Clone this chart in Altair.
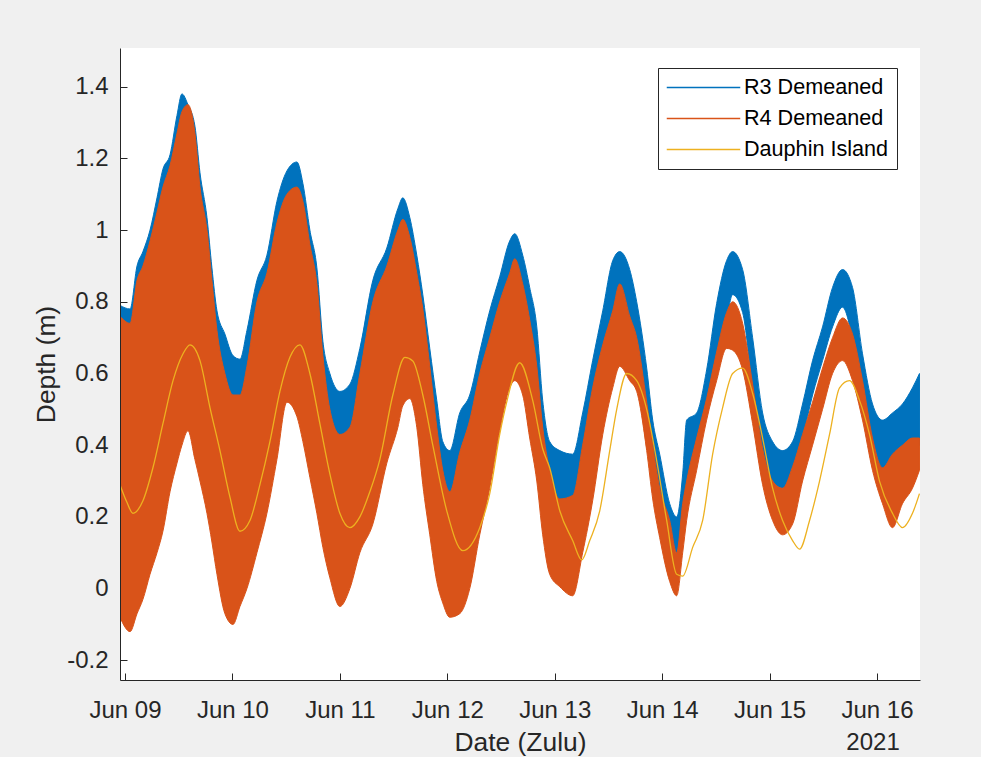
import altair as alt
import pandas as pd

# ---- data (day of June 2021, UTC, fractional) ----
BAND_DAY = [
    8.953, 9.047, 9.112, 9.167, 9.233, 9.298, 9.353, 9.419, 9.484, 9.530,
    9.586, 9.651, 9.698, 9.763, 9.809, 9.856, 9.930, 10.005, 10.070, 10.135,
    10.228, 10.321, 10.414, 10.507, 10.600, 10.656, 10.721, 10.786, 10.842, 10.907,
    11.000, 11.093, 11.186, 11.307, 11.437, 11.540, 11.586, 11.651, 11.716, 11.772,
    11.837, 11.902, 11.958, 12.023, 12.116, 12.209, 12.302, 12.395, 12.488, 12.581,
    12.628, 12.702, 12.767, 12.833, 12.888, 12.953, 13.047, 13.167, 13.260, 13.353,
    13.447, 13.540, 13.605, 13.698, 13.763, 13.856, 13.912, 13.977, 14.070, 14.135,
    14.191, 14.228, 14.321, 14.414, 14.507, 14.600, 14.656, 14.749, 14.842, 14.935,
    15.028, 15.121, 15.214, 15.307, 15.400, 15.493, 15.586, 15.679, 15.772, 15.865,
    15.958, 16.051, 16.144, 16.237, 16.330, 16.395,
]
R3_TOP = [
    0.79, 0.78, 0.90, 0.94, 1.00, 1.09, 1.17, 1.21, 1.32, 1.38,
    1.35, 1.29, 1.16, 1.035, 0.895, 0.775, 0.71, 0.65, 0.64, 0.72,
    0.86, 0.93, 1.08, 1.165, 1.19, 1.13, 1.00, 0.895, 0.69, 0.60,
    0.55, 0.57, 0.67, 0.86, 0.95, 1.06, 1.09, 1.035, 0.93, 0.82,
    0.67, 0.525, 0.41, 0.385, 0.49, 0.54, 0.66, 0.775, 0.87, 0.97,
    0.99, 0.93, 0.84, 0.73, 0.525, 0.41, 0.385, 0.375, 0.49, 0.636,
    0.775, 0.915, 0.94, 0.89, 0.80, 0.615, 0.47, 0.375, 0.237, 0.20,
    0.32, 0.47, 0.49, 0.61, 0.795, 0.915, 0.94, 0.89, 0.70, 0.49,
    0.41, 0.385, 0.41, 0.515, 0.636, 0.73, 0.84, 0.89, 0.84, 0.655,
    0.515, 0.47, 0.49, 0.515, 0.56, 0.60,
]
R3_BOTTOM = [
    0.05, 0.00, 0.05, 0.10, 0.15, 0.25, 0.30, 0.40, 0.50, 0.55,
    0.60, 0.55, 0.50, 0.40, 0.30, 0.20, 0.10, 0.05, 0.05, 0.10,
    0.20, 0.30, 0.45, 0.60, 0.65, 0.60, 0.50, 0.40, 0.25, 0.15,
    0.08, 0.10, 0.20, 0.30, 0.45, 0.60, 0.65, 0.65, 0.60, 0.45,
    0.30, 0.15, 0.10, 0.05, 0.05, 0.10, 0.25, 0.40, 0.55, 0.65,
    0.70, 0.65, 0.55, 0.40, 0.25, 0.10, 0.05, 0.05, 0.20, 0.35,
    0.50, 0.62, 0.70, 0.65, 0.62, 0.45, 0.38, 0.27, 0.18, 0.10,
    0.20, 0.265, 0.357, 0.49, 0.63, 0.75, 0.82, 0.77, 0.56, 0.375,
    0.30, 0.28, 0.32, 0.42, 0.54, 0.636, 0.73, 0.785, 0.70, 0.56,
    0.41, 0.32, 0.33, 0.36, 0.38, 0.40,
]
R4_TOP = [
    0.76, 0.74, 0.86, 0.90, 0.97, 1.05, 1.12, 1.18, 1.27, 1.33,
    1.35, 1.27, 1.12, 1.00, 0.86, 0.72, 0.60, 0.54, 0.54, 0.62,
    0.80, 0.88, 1.02, 1.10, 1.12, 1.08, 0.96, 0.85, 0.65, 0.50,
    0.43, 0.45, 0.60, 0.80, 0.90, 1.00, 1.03, 0.98, 0.88, 0.78,
    0.62, 0.45, 0.33, 0.27, 0.38, 0.47, 0.60, 0.70, 0.80, 0.88,
    0.92, 0.85, 0.75, 0.62, 0.45, 0.33, 0.25, 0.26, 0.40, 0.56,
    0.68, 0.775, 0.85, 0.76, 0.70, 0.52, 0.40, 0.28, 0.19, 0.10,
    0.237, 0.30, 0.42, 0.53, 0.66, 0.77, 0.80, 0.74, 0.57, 0.39,
    0.30, 0.28, 0.34, 0.43, 0.52, 0.615, 0.70, 0.755, 0.71, 0.58,
    0.42, 0.337, 0.375, 0.40, 0.42, 0.42,
]
R4_BOTTOM = [
    -0.08, -0.12, -0.07, -0.03, 0.04, 0.10, 0.16, 0.27, 0.35, 0.40,
    0.44, 0.36, 0.30, 0.21, 0.13, 0.04, -0.07, -0.10, -0.05, 0.00,
    0.10, 0.21, 0.36, 0.52, 0.48, 0.41, 0.31, 0.21, 0.115, 0.03,
    -0.05, 0.00, 0.10, 0.18, 0.35, 0.45, 0.51, 0.53, 0.45, 0.29,
    0.15, 0.02, -0.04, -0.08, -0.07, 0.00, 0.15, 0.28, 0.44, 0.56,
    0.58, 0.54, 0.42, 0.30, 0.15, 0.04, 0.005, -0.02, 0.10, 0.245,
    0.43, 0.56, 0.62, 0.58, 0.55, 0.385, 0.25, 0.142, 0.02, -0.02,
    0.10, 0.19, 0.33, 0.47, 0.58, 0.67, 0.665, 0.61, 0.46, 0.29,
    0.19, 0.15, 0.18, 0.30, 0.40, 0.50, 0.60, 0.636, 0.58, 0.47,
    0.33, 0.237, 0.17, 0.237, 0.28, 0.33,
]
DI_DAY = [
    8.953, 9.019, 9.074, 9.167, 9.260, 9.353, 9.447, 9.540, 9.605, 9.698,
    9.791, 9.884, 9.977, 10.070, 10.163, 10.256, 10.349, 10.442, 10.535, 10.628,
    10.721, 10.814, 10.907, 11.000, 11.093, 11.186, 11.279, 11.372, 11.493, 11.605,
    11.679, 11.772, 11.865, 11.995, 12.144, 12.302, 12.395, 12.488, 12.553, 12.674,
    12.795, 12.888, 12.953, 13.047, 13.167, 13.251, 13.326, 13.419, 13.512, 13.577,
    13.670, 13.763, 13.856, 13.949, 14.042, 14.135, 14.191, 14.284, 14.377, 14.470,
    14.563, 14.656, 14.749, 14.842, 14.935, 15.028, 15.121, 15.214, 15.279, 15.372,
    15.465, 15.558, 15.651, 15.744, 15.837, 15.930, 16.023, 16.144, 16.237, 16.330,
    16.395,
]
DI_DEPTH = [
    0.29, 0.24, 0.21, 0.245, 0.337, 0.46, 0.58, 0.655, 0.68, 0.636,
    0.505, 0.385, 0.255, 0.16, 0.19, 0.29, 0.41, 0.55, 0.645, 0.68,
    0.60, 0.46, 0.32, 0.21, 0.17, 0.20, 0.27, 0.36, 0.54, 0.645,
    0.635, 0.54, 0.40, 0.217, 0.106, 0.17, 0.265, 0.43, 0.52, 0.63,
    0.525, 0.39, 0.337, 0.217, 0.134, 0.08, 0.134, 0.217, 0.385, 0.50,
    0.60, 0.58, 0.50, 0.357, 0.19, 0.04, 0.035, 0.115, 0.19, 0.375,
    0.505, 0.60, 0.615, 0.545, 0.42, 0.28, 0.19, 0.134, 0.11, 0.19,
    0.30, 0.43, 0.56, 0.58, 0.525, 0.43, 0.30, 0.21, 0.17, 0.21,
    0.265,
]
SERIES = ["R3 Demeaned", "R4 Demeaned", "Dauphin Island"]
COLORS = ["#0072BD", "#D95319", "#EDB120"]
X_TICK_DAYS = [9, 10, 11, 12, 13, 14, 15, 16]
Y_TICKS = [-0.2, 0, 0.2, 0.4, 0.6, 0.8, 1, 1.2, 1.4]
X_DOMAIN_DAYS = [8.9535, 16.40]
Y_DOMAIN = [-0.255, 1.508]
YEAR_LABEL = "2021"

FONT = "Liberation Sans"
AX = "#262626"


def to_ms(day):
    t = pd.Timestamp("2021-06-01", tz="UTC") + pd.to_timedelta(day - 1, unit="D")
    return int(t.value // 10**6)


r3 = pd.DataFrame({"t": [to_ms(d) for d in BAND_DAY], "lo": R3_BOTTOM,
                   "hi": R3_TOP, "series": SERIES[0]})
r4 = pd.DataFrame({"t": [to_ms(d) for d in BAND_DAY], "lo": R4_BOTTOM,
                   "hi": R4_TOP, "series": SERIES[1]})
di = pd.DataFrame({"t": [to_ms(d) for d in DI_DAY], "v": DI_DEPTH,
                   "series": SERIES[2]})
yr = pd.DataFrame({"t": [to_ms(16)], "txt": [YEAR_LABEL]})

xscale = alt.Scale(type="utc", domain=[to_ms(d) for d in X_DOMAIN_DAYS], nice=False)
yscale = alt.Scale(domain=Y_DOMAIN, nice=False, zero=False)
cscale = alt.Scale(domain=SERIES, range=COLORS)
xvals = [to_ms(d) for d in X_TICK_DAYS]

legend = alt.Legend(
    orient="none", legendX=538, legendY=20,
    symbolType="M-3.5,0H3.5", symbolSize=441, symbolStrokeWidth=1.5,
    symbolOffset=26, symbolFillColor="transparent",
    rowPadding=8, padding=8, labelOffset=29,
    labelFontSize=21.6, labelFont=FONT, labelColor="#000000", labelLimit=400,
    strokeColor=AX, fillColor="white", symbolOpacity=1,
)
stroke_enc = alt.Stroke("series:N", scale=cscale, title=None, legend=legend)

x_main = alt.X(
    "t:T", scale=xscale,
    axis=alt.Axis(
        orient="bottom", values=xvals,
        labelExpr="utcFormat(datum.value, '%b %d')",
        ticks=False, tickSize=0, labelPadding=37, labelBaseline="alphabetic",
        labelFontSize=24, labelFont=FONT, labelColor=AX, labelFlush=False,
        labelOverlap=False, domainColor=AX, domainWidth=1, grid=False,
        title="Date (Zulu)", titleFontSize=26.4, titleFont=FONT, titleColor=AX,
        titleFontWeight="normal", titleX=400, titleY=70,
        titleBaseline="alphabetic", titleAlign="center", zindex=1,
    ),
)
y_main = alt.Y(
    "hi:Q", scale=yscale,
    axis=alt.Axis(
        orient="left", values=Y_TICKS,
        labelExpr="replace(format(datum.value, '.1~f'), '\u2212', '-')",
        ticks=False, tickSize=0, labelPadding=12, labelFontSize=24,
        labelFont=FONT, labelColor=AX, labelBaseline="middle", labelFlush=False,
        labelOverlap=False, domainColor=AX, domainWidth=1, grid=False,
        title="Depth (m)", titleFontSize=26.4, titleFont=FONT, titleColor=AX,
        titleFontWeight="normal", titleX=-74, titleY=316, titleAngle=270,
        titleBaseline="middle", titleAlign="center", zindex=1,
    ),
)

band_r3 = alt.Chart(r3).mark_area(
    fill=COLORS[0], opacity=1, strokeWidth=1, clip=True, interpolate="monotone"
).encode(x=x_main, y=y_main, y2="lo:Q", stroke=stroke_enc)

x_ticks = alt.X(
    "t:T", scale=xscale,
    axis=alt.Axis(orient="top", offset=-632, values=xvals, labels=False,
                  domain=False, ticks=True, tickSize=7, tickColor=AX,
                  tickWidth=1, grid=False, title=""),
)
y_ticks = alt.Y(
    "hi:Q", scale=yscale,
    axis=alt.Axis(orient="right", offset=-800, values=Y_TICKS, labels=False,
                  domain=False, ticks=True, tickSize=7, tickColor=AX,
                  tickWidth=1, grid=False, title=""),
)

band_r4 = alt.Chart(r4).mark_area(
    fill=COLORS[1], opacity=1, strokeWidth=1, clip=True, interpolate="monotone"
).encode(x=x_ticks, y=y_ticks, y2="lo:Q", stroke=stroke_enc)

line_di = alt.Chart(di).mark_line(
    strokeWidth=1.3, clip=True, interpolate="monotone"
).encode(
    x=alt.X("t:T", scale=xscale, axis=None),
    y=alt.Y("v:Q", scale=yscale, axis=None),
    stroke=stroke_enc,
)

year_txt = alt.Chart(yr).mark_text(
    font=FONT, fontSize=24, color=AX, baseline="alphabetic", align="center", dx=-4
).encode(
    x=alt.X("t:T", scale=xscale, axis=None),
    y=alt.value(702),
    text="txt:N",
)

chart = (
    alt.layer(band_r3, band_r4, line_di, year_txt)
    .resolve_axis(x="independent", y="independent")
    .properties(
        width=800, height=632,
        padding={"left": 120, "top": 48, "right": 61, "bottom": 77},
        autosize=alt.AutoSizeParams(type="none"),
    )
    .configure(background="#f0f0f0")
    .configure_view(fill="white", strokeWidth=0)
)

chart.save("out.html", embed_options={"renderer": "svg", "actions": False})
